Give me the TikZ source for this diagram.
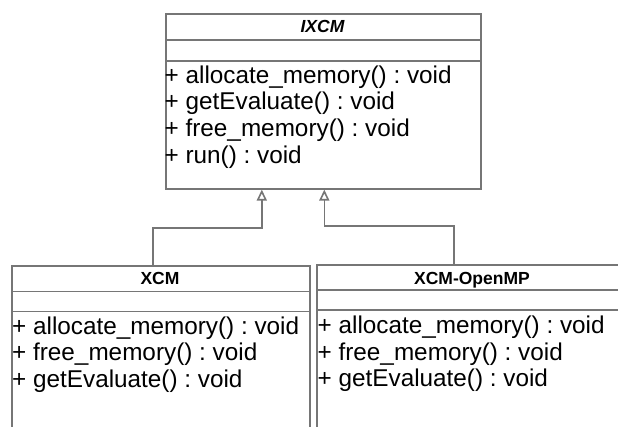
\documentclass[tikz,border=0pt]{standalone}
\usepackage{fontspec}
\setmainfont{Liberation Sans}
\usetikzlibrary{arrows.meta}
\definecolor{lineclr}{RGB}{118,118,118}
\tikzset{
  umlbox/.style={draw=lineclr, line width=1.6pt, rectangle, inner sep=0pt, anchor=north west},
  sepline/.style={draw=lineclr, line width=1.6pt},
  ttl/.style={inner sep=0pt, anchor=base, font=\fontsize{17.5}{20}\selectfont\bfseries},
  mem/.style={inner sep=0pt, anchor=base west, font=\fontsize{24.3}{28}\selectfont},
  inh/.style={draw=lineclr, line width=1.6pt, -{Triangle[open, length=11pt, width=10pt, fill=white]}}
}
\frenchspacing
\begin{document}
\begin{tikzpicture}[x=1pt,y=1pt]
\useasboundingbox (0,0) rectangle (618,426);
\clip (0,0) rectangle (618,426);
% boxes
\node[umlbox, minimum width=315pt, minimum height=175pt] (ixcm) at (165,413) {};
\node[umlbox, minimum width=298pt, minimum height=190pt] (xcm) at (11,161) {};
\node[umlbox, minimum width=312pt, minimum height=190pt] (omp) at (316,162) {};
% separators
\draw[sepline] (ixcm.west |- 0,386) -- (ixcm.east |- 0,386);
\draw[sepline] (ixcm.west |- 0,365) -- (ixcm.east |- 0,365);
\draw[sepline] (xcm.west |- 0,134.5) -- (xcm.east |- 0,134.5);
\draw[sepline] (xcm.west |- 0,114.5) -- (xcm.east |- 0,114.5);
\draw[sepline] (omp.west |- 0,136) -- (omp.east |- 0,136);
\draw[sepline] (omp.west |- 0,116) -- (omp.east |- 0,116);
% titles
\node[ttl, font=\fontsize{17.5}{20}\selectfont\bfseries\itshape] (ixcmt) at (322.5,393.7) {IXCM};
\node[ttl] (xcmt) at (160,141.7) {XCM};
\node[ttl] (ompt) at (472,142) {XCM-OpenMP};
% members
\node[mem] (i1) at (164.5,342.7) {+ allocate\_memory() : void};
\node[mem] (i2) at (164.5,316) {+ getEvaluate() : void};
\node[mem] (i3) at (164.5,289.3) {+ free\_memory() : void};
\node[mem] (i4) at (164.5,262.7) {+ run() : void};
\node[mem] (x1) at (12,92) {+ allocate\_memory() : void};
\node[mem] (x2) at (12,65.3) {+ free\_memory() : void};
\node[mem] (x3) at (12,38.7) {+ getEvaluate() : void};
\node[mem] (o1) at (317.5,92.5) {+ allocate\_memory() : void};
\node[mem] (o2) at (317.5,66) {+ free\_memory() : void};
\node[mem] (o3) at (317.5,39.3) {+ getEvaluate() : void};
% connectors
\draw[inh] ([xshift=-8pt]xcm.north) -- ++(0,37pt) -| ([xshift=-61.5pt]ixcm.south);
\draw[inh] ([xshift=-19pt]omp.north) -- ++(0,38pt) -| ([xshift=1pt]ixcm.south);
\end{tikzpicture}
\end{document}
